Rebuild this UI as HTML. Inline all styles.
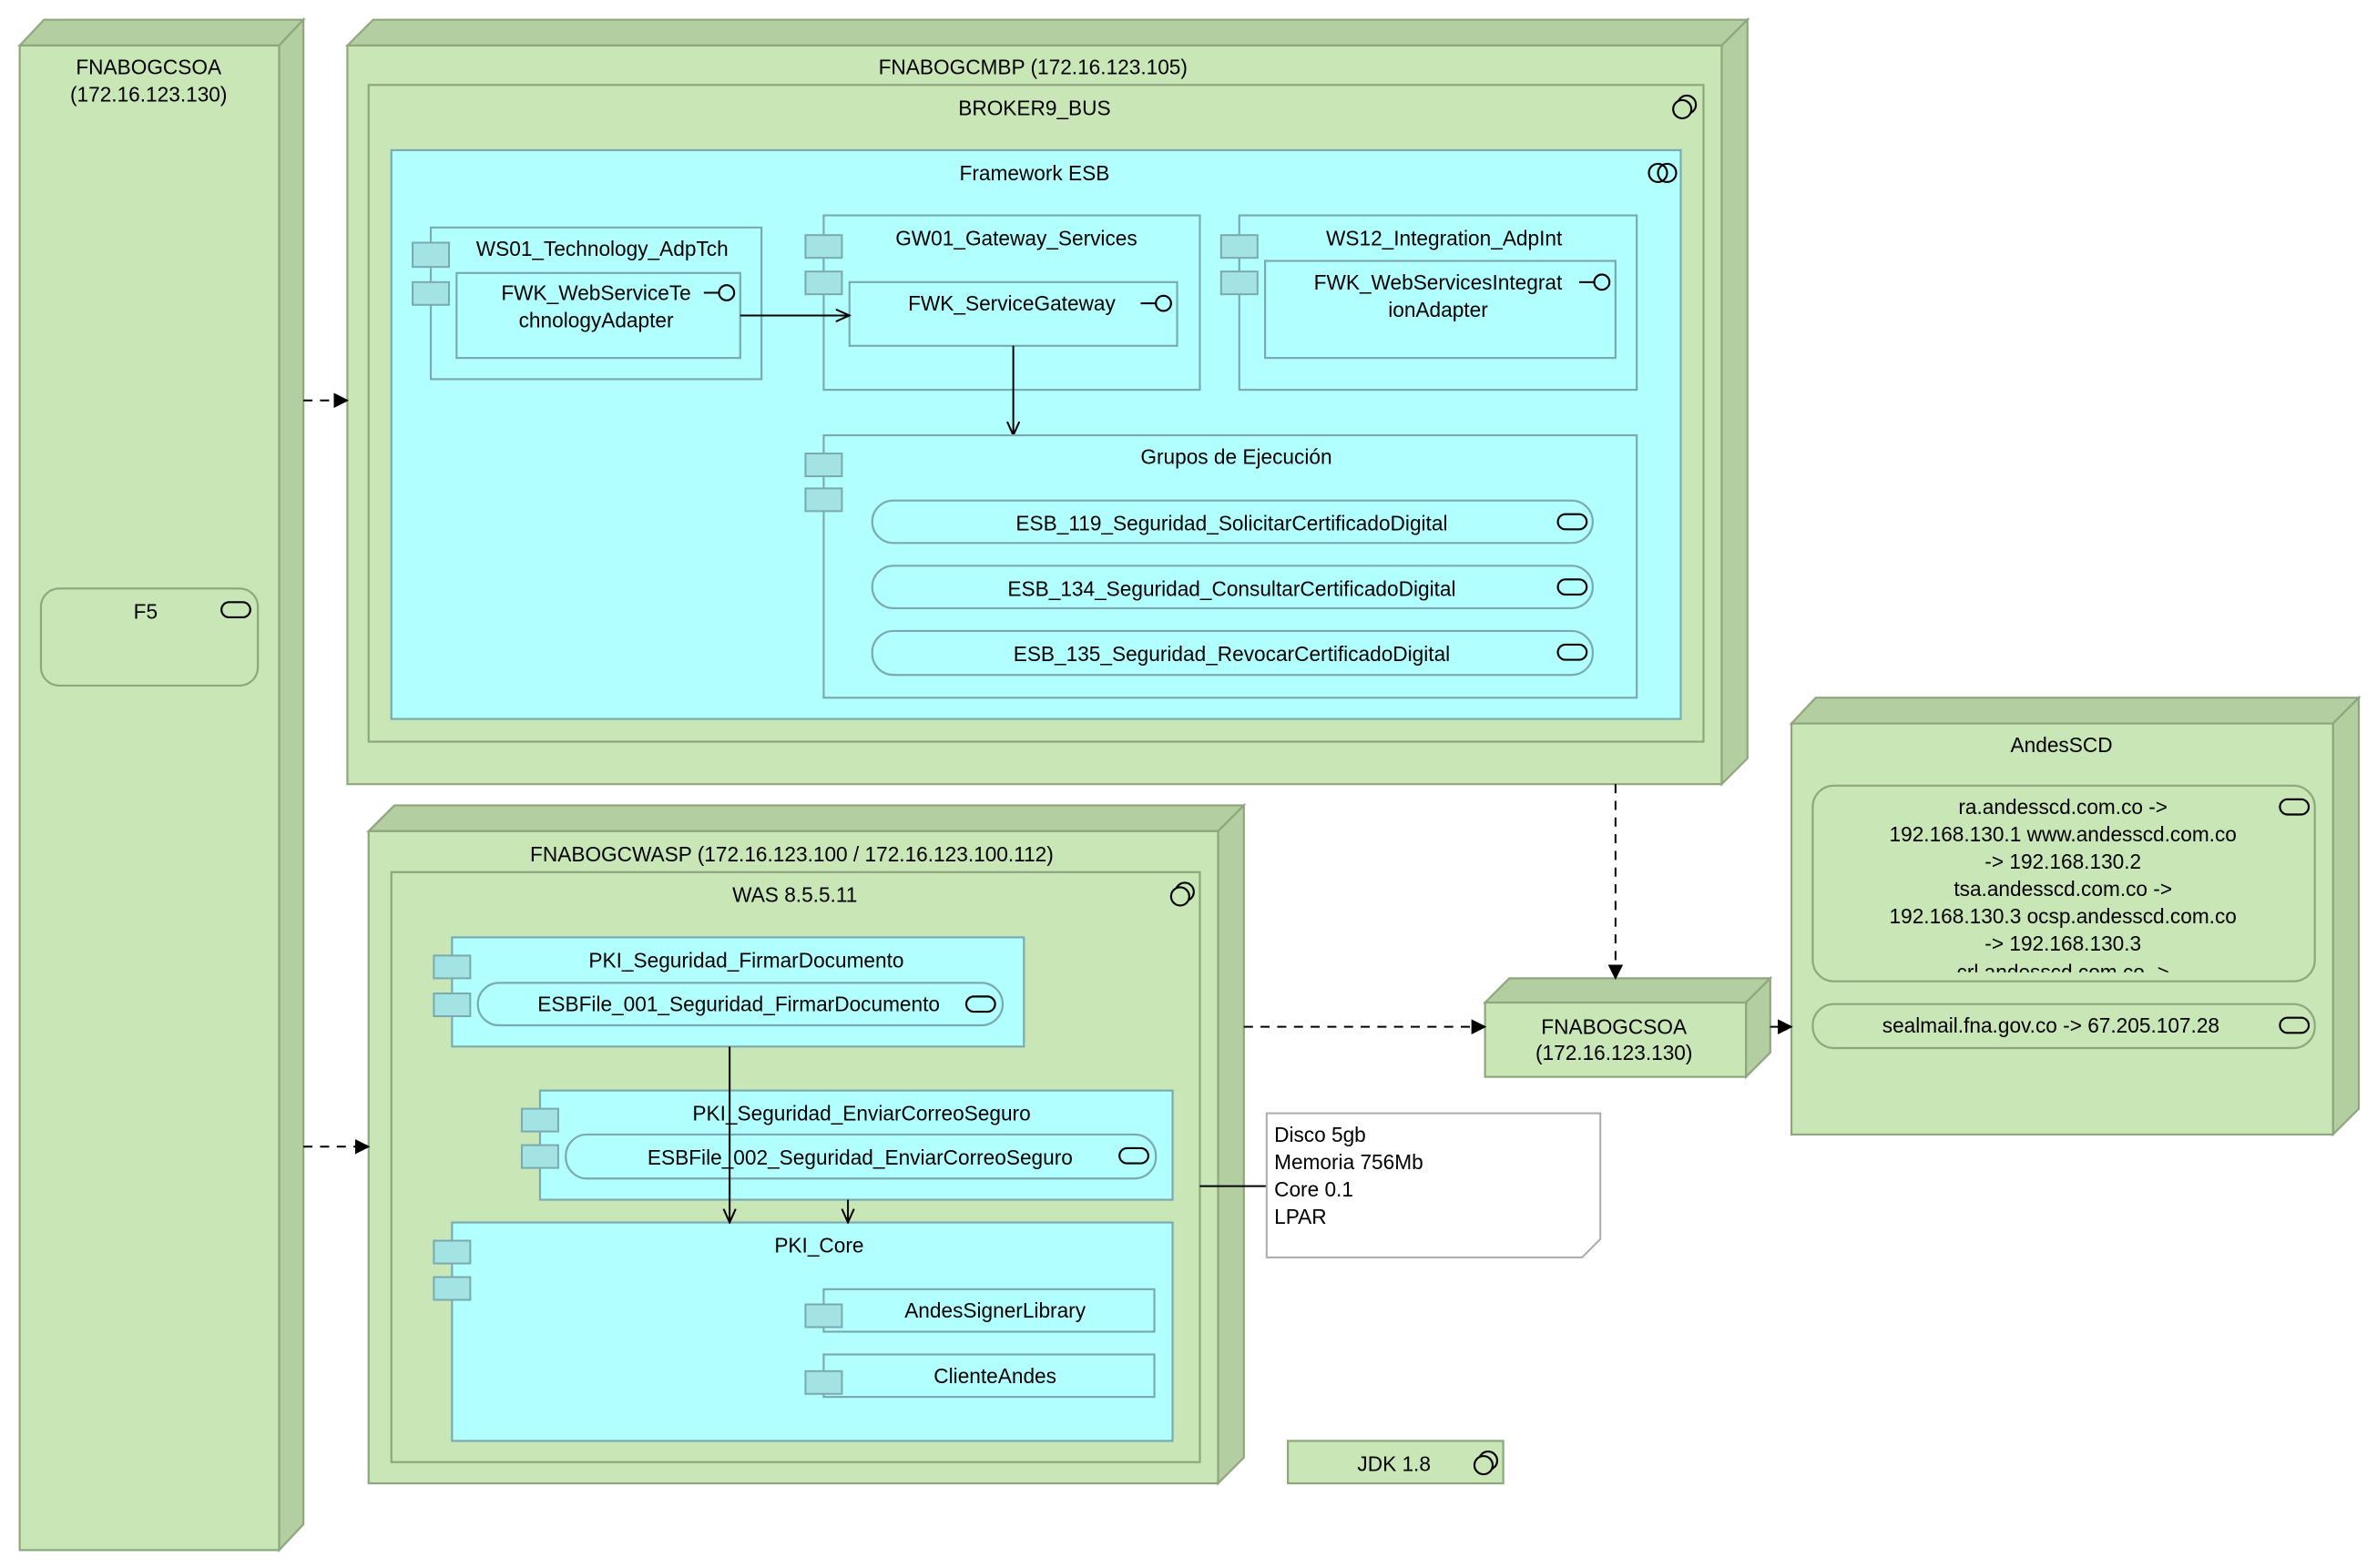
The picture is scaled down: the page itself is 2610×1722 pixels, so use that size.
<!DOCTYPE html>
<html><head><meta charset="utf-8"><style>
html,body{margin:0;padding:0;background:#fff;}
svg{display:block;}
text{font-family:"Liberation Sans",sans-serif;font-size:13.6px;fill:#000;dominant-baseline:central;}
.n{fill:#c9e6b6;stroke:#8ea67d;stroke-width:1.3;}
.d{fill:#b3cea0;stroke:#8ea67d;stroke-width:1.3;}
.c{fill:#b2ffff;stroke:#7aaab0;stroke-width:1.3;}
.ci{fill:#a3e3e3;stroke:#7aaab0;stroke-width:1.2;}
.ic{fill:none;stroke:#000;stroke-width:1.3;}
.ln{fill:none;stroke:#000;stroke-width:1.2;}
</style></head><body>
<svg width="2610" height="1722" viewBox="0 0 1567 1033.8" preserveAspectRatio="none" xmlns="http://www.w3.org/2000/svg">
<defs>
<marker id="fa" markerWidth="10" markerHeight="10" refX="9" refY="5" orient="auto" markerUnits="userSpaceOnUse"><path d="M0,0 L10,5 L0,10 z" fill="#000"/></marker>
<marker id="oa" markerWidth="10" markerHeight="10" refX="9" refY="5" orient="auto" markerUnits="userSpaceOnUse"><path d="M0,1 L9,5 L0,9" fill="none" stroke="#000" stroke-width="1.2"/></marker>
</defs>

<polygon class="d" points="13,30 29,13 200,13 184,30"/>
<polygon class="d" points="184,30 200,13 200,1005 184,1022"/>
<rect class="n" x="13" y="30" width="171" height="992"/>
<text x="98" y="44" text-anchor="middle">FNABOGCSOA</text>
<text x="98" y="62" text-anchor="middle">(172.16.123.130)</text>
<rect class="n" x="27" y="388" width="143" height="64" rx="12"/>
<text x="96" y="403" text-anchor="middle">F5</text>
<rect class="ic" x="146" y="397" width="19" height="10" rx="5"/>

<polygon class="d" points="229,30 246,13 1152,13 1135,30"/>
<polygon class="d" points="1135,30 1152,13 1152,500 1135,517"/>
<rect class="n" x="229" y="30" width="906" height="487"/>
<text x="681" y="44" text-anchor="middle">FNABOGCMBP (172.16.123.105)</text>
<rect class="n" x="243" y="56" width="880" height="433"/>
<text x="682" y="71" text-anchor="middle">BROKER9_BUS</text>
<circle class="ic" cx="1112" cy="69" r="6"/><circle cx="1109" cy="72" r="6" fill="#c9e6b6" stroke="#000" stroke-width="1.3"/>
<rect class="c" x="258" y="99" width="850" height="375"/>
<text x="682" y="114" text-anchor="middle">Framework ESB</text>
<circle class="ic" cx="1093" cy="114" r="6"/><circle class="ic" cx="1099" cy="114" r="6"/>

<rect class="c" x="284" y="150" width="218" height="100"/>
<rect class="ci" x="272" y="160" width="24" height="16"/><rect class="ci" x="272" y="186" width="24" height="15"/>
<text x="397" y="164" text-anchor="middle">WS01_Technology_AdpTch</text>
<rect class="c" x="301" y="180" width="187" height="56"/>
<text x="393" y="193" text-anchor="middle">FWK_WebServiceTe</text>
<text x="393" y="211" text-anchor="middle">chnologyAdapter</text>
<line class="ln" x1="464" y1="193" x2="474" y2="193"/><circle class="ic" cx="479" cy="193" r="5"/>

<rect class="c" x="543" y="142" width="248" height="115"/>
<rect class="ci" x="531" y="155" width="24" height="15"/><rect class="ci" x="531" y="179" width="24" height="15"/>
<text x="670" y="157" text-anchor="middle">GW01_Gateway_Services</text>
<rect class="c" x="560" y="186" width="216" height="42"/>
<text x="667" y="200" text-anchor="middle">FWK_ServiceGateway</text>
<line class="ln" x1="752" y1="200" x2="762" y2="200"/><circle class="ic" cx="767" cy="200" r="5"/>

<rect class="c" x="817" y="142" width="262" height="115"/>
<rect class="ci" x="805" y="155" width="24" height="15"/><rect class="ci" x="805" y="179" width="24" height="15"/>
<text x="952" y="157" text-anchor="middle">WS12_Integration_AdpInt</text>
<rect class="c" x="834" y="172" width="231" height="64"/>
<text x="948" y="186" text-anchor="middle">FWK_WebServicesIntegrat</text>
<text x="948" y="204" text-anchor="middle">ionAdapter</text>
<line class="ln" x1="1041" y1="186" x2="1051" y2="186"/><circle class="ic" cx="1056" cy="186" r="5"/>

<line class="ln" x1="488" y1="208" x2="560" y2="208" marker-end="url(#oa)"/>
<line class="ln" x1="668" y1="228" x2="668" y2="287" marker-end="url(#oa)"/>

<rect class="c" x="543" y="287" width="536" height="173"/>
<rect class="ci" x="531" y="299" width="24" height="15"/><rect class="ci" x="531" y="322" width="24" height="15"/>
<text x="815" y="301" text-anchor="middle">Grupos de Ejecución</text>
<rect class="c" x="575" y="330" width="475" height="28" rx="14"/>
<text x="812" y="345" text-anchor="middle">ESB_119_Seguridad_SolicitarCertificadoDigital</text>
<rect class="ic" x="1027" y="339" width="19" height="10" rx="5"/>
<rect class="c" x="575" y="373" width="475" height="28" rx="14"/>
<text x="812" y="388" text-anchor="middle">ESB_134_Seguridad_ConsultarCertificadoDigital</text>
<rect class="ic" x="1027" y="382" width="19" height="10" rx="5"/>
<rect class="c" x="575" y="416" width="475" height="29" rx="14"/>
<text x="812" y="431" text-anchor="middle">ESB_135_Seguridad_RevocarCertificadoDigital</text>
<rect class="ic" x="1027" y="425" width="19" height="10" rx="5"/>

<polygon class="d" points="243,548 260,531 820,531 803,548"/>
<polygon class="d" points="803,548 820,531 820,961 803,978"/>
<rect class="n" x="243" y="548" width="560" height="430"/>
<text x="522" y="563" text-anchor="middle">FNABOGCWASP (172.16.123.100 / 172.16.123.100.112)</text>
<rect class="n" x="258" y="575" width="533" height="389"/>
<text x="524" y="590" text-anchor="middle">WAS 8.5.5.11</text>
<circle class="ic" cx="781" cy="588" r="6"/><circle cx="778" cy="591" r="6" fill="#c9e6b6" stroke="#000" stroke-width="1.3"/>

<rect class="c" x="298" y="618" width="377" height="72"/>
<rect class="ci" x="286" y="630" width="24" height="15"/><rect class="ci" x="286" y="655" width="24" height="15"/>
<text x="492" y="633" text-anchor="middle">PKI_Seguridad_FirmarDocumento</text>
<rect class="c" x="315" y="648" width="346" height="28" rx="14"/>
<text x="487" y="662" text-anchor="middle">ESBFile_001_Seguridad_FirmarDocumento</text>
<rect class="ic" x="637" y="657" width="19" height="10" rx="5"/>

<rect class="c" x="356" y="719" width="417" height="72"/>
<rect class="ci" x="344" y="731" width="24" height="15"/><rect class="ci" x="344" y="755" width="24" height="15"/>
<text x="568" y="734" text-anchor="middle">PKI_Seguridad_EnviarCorreoSeguro</text>
<rect class="c" x="373" y="748" width="389" height="29" rx="14"/>
<text x="567" y="763" text-anchor="middle">ESBFile_002_Seguridad_EnviarCorreoSeguro</text>
<rect class="ic" x="738" y="757" width="19" height="10" rx="5"/>

<rect class="c" x="298" y="806" width="475" height="144"/>
<rect class="ci" x="286" y="818" width="24" height="15"/><rect class="ci" x="286" y="842" width="24" height="15"/>
<text x="540" y="821" text-anchor="middle">PKI_Core</text>
<rect class="c" x="543" y="850" width="218" height="28"/>
<rect class="ci" x="531" y="860" width="24" height="15"/>
<text x="656" y="864" text-anchor="middle">AndesSignerLibrary</text>
<rect class="c" x="543" y="893" width="218" height="28"/>
<rect class="ci" x="531" y="904" width="24" height="15"/>
<text x="656" y="907" text-anchor="middle">ClienteAndes</text>

<line class="ln" x1="481" y1="690" x2="481" y2="806" marker-end="url(#oa)"/>
<line class="ln" x1="559" y1="791" x2="559" y2="806" marker-end="url(#oa)"/>

<line class="ln" x1="791" y1="782" x2="835" y2="782"/>
<polygon points="835,734 1055,734 1055,817 1043,829 835,829" fill="#fff" stroke="#aaa" stroke-width="1.2"/>
<text x="840" y="748">Disco 5gb</text>
<text x="840" y="766">Memoria 756Mb</text>
<text x="840" y="784">Core 0.1</text>
<text x="840" y="802">LPAR</text>

<rect class="n" x="849" y="950" width="142" height="28"/>
<text x="919" y="965" text-anchor="middle">JDK 1.8</text>
<circle class="ic" cx="981" cy="963" r="6"/><circle cx="978" cy="966" r="6" fill="#c9e6b6" stroke="#000" stroke-width="1.3"/>

<polygon class="d" points="979,661 995,645 1167,645 1151,661"/>
<polygon class="d" points="1151,661 1167,645 1167,694 1151,710"/>
<rect class="n" x="979" y="661" width="172" height="49"/>
<text x="1064" y="677" text-anchor="middle">FNABOGCSOA</text>
<text x="1064" y="694" text-anchor="middle">(172.16.123.130)</text>

<polygon class="d" points="1181,477 1197,460 1555,460 1538,477"/>
<polygon class="d" points="1538,477 1555,460 1555,731 1538,748"/>
<rect class="n" x="1181" y="477" width="357" height="271"/>
<text x="1359" y="491" text-anchor="middle">AndesSCD</text>
<clipPath id="cp"><rect x="1195" y="518" width="331" height="123"/></clipPath>
<rect class="n" x="1195" y="518" width="331" height="129" rx="14"/>
<g clip-path="url(#cp)" text-anchor="middle">
<text x="1360" y="532">ra.andesscd.com.co    -&gt;</text>
<text x="1360" y="550">192.168.130.1 www.andesscd.com.co</text>
<text x="1360" y="568">-&gt;  192.168.130.2</text>
<text x="1360" y="586">tsa.andesscd.com.co   -&gt;</text>
<text x="1360" y="604">192.168.130.3 ocsp.andesscd.com.co</text>
<text x="1360" y="622">-&gt;  192.168.130.3</text>
<text x="1360" y="641">crl.andesscd.com.co   -&gt;</text>
</g>
<rect class="ic" x="1503" y="527" width="19" height="10" rx="5"/>
<rect class="n" x="1195" y="662" width="331" height="29" rx="14"/>
<text x="1352" y="676" text-anchor="middle">sealmail.fna.gov.co -&gt; 67.205.107.28</text>
<rect class="ic" x="1503" y="671" width="19" height="10" rx="5"/>

<line class="ln" x1="200" y1="264" x2="229" y2="264" stroke-dasharray="6,5" marker-end="url(#fa)"/>
<line class="ln" x1="200" y1="756" x2="243" y2="756" stroke-dasharray="6,5" marker-end="url(#fa)"/>
<line class="ln" x1="820" y1="677" x2="979" y2="677" stroke-dasharray="6,5" marker-end="url(#fa)"/>
<line class="ln" x1="1065" y1="517" x2="1065" y2="645" stroke-dasharray="6,5" marker-end="url(#fa)"/>
<line class="ln" x1="1167" y1="677" x2="1181" y2="677" marker-end="url(#fa)"/>
</svg>
</body></html>
